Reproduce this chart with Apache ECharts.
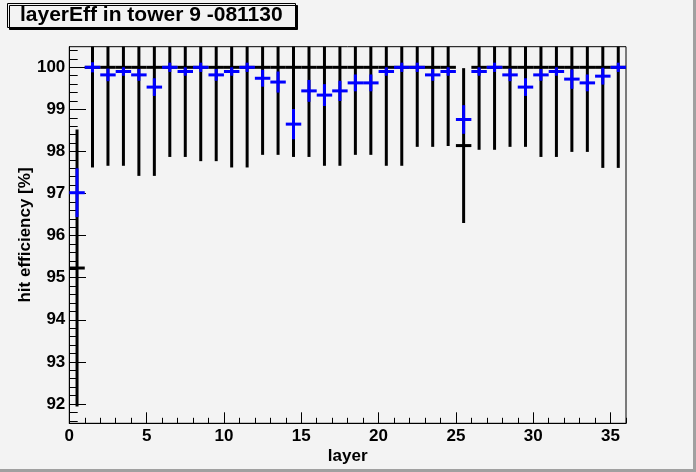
<!DOCTYPE html>
<html>
<head>
<meta charset="utf-8">
<script src="https://cdn.jsdelivr.net/npm/echarts@6/dist/echarts.min.js"></script>
<style>
html,body{margin:0;padding:0;background:#f3f3f3;}
#chart{width:696px;height:472px;}
</style>
</head>
<body>
<div id="chart"></div>
<script>
// ---- data ----
const layers = [0,1,2,3,4,5,6,7,8,9,10,11,12,13,14,15,16,17,18,19,20,21,22,23,24,25,26,27,28,29,30,31,32,33,34,35];
const blueEff = [97.02,100,99.82,99.90,99.82,99.53,100,99.90,100,99.82,99.90,100,99.74,99.65,98.65,99.44,99.34,99.44,99.63,99.63,99.90,100,100,99.82,99.90,98.76,99.90,100,99.82,99.53,99.82,99.90,99.72,99.63,99.79,100];
const blueErr = [0.58,0.12,0.15,0.10,0.14,0.21,0.11,0.10,0.11,0.14,0.10,0.11,0.20,0.25,0.36,0.26,0.26,0.24,0.20,0.20,0.10,0.11,0.11,0.14,0.10,0.34,0.10,0.11,0.15,0.21,0.14,0.10,0.23,0.20,0.20,0.11];
const blackEff = [95.23,100,100,100,100,100,100,100,100,100,100,100,100,100,100,100,100,100,100,100,100,100,100,100,100,98.14,100,100,100,100,100,100,100,100,100,100];
const blackErr = [3.29,2.38,2.34,2.34,2.58,2.58,2.13,2.13,2.23,2.23,2.38,2.38,2.08,2.08,2.13,2.13,2.34,2.34,2.08,2.08,2.34,2.34,1.89,1.89,1.87,1.84,1.96,1.96,1.89,1.89,2.13,2.13,2.01,2.01,2.39,2.39];
const xMajorTicks = [0,5,10,15,20,25,30,35];
const yMajorTicks = [92,93,94,95,96,97,98,99,100];
const xMinorTicks = [];
for (let i = 0; i <= 36; i++) xMinorTicks.push(i);
const yMinorTicks = [];
for (let k = 458; k <= 502; k++) yMinorTicks.push(+(k * 0.2).toFixed(1));

const titleText = 'layerEff in tower 9 -081130';
const xTitle = 'layer';
const yTitle = 'hit efficiency [%]';
const X_MIN = 0, X_MAX = 36, Y_MIN = 91.54, Y_MAX = 100.49;

const FONT = '"Liberation Sans", Arial, sans-serif';

function makeRenderer(color, hLine, vLine) {
  return function (params, api) {
    const layer = api.value(0), v = api.value(1), e = api.value(2);
    const cs = params.coordSys;
    const pL = api.coord([layer, v]);
    const pR = api.coord([layer + 1, v]);
    const top = api.coord([layer + 0.5, v + e]);
    const bot = api.coord([layer + 0.5, v - e]);
    const yTop = Math.max(top[1], cs.y);
    const yBot = Math.min(bot[1], cs.y + cs.height);
    return {
      type: 'group',
      children: [
        { type: 'line', shape: { x1: top[0], y1: yTop, x2: top[0], y2: yBot }, style: { stroke: color, lineWidth: vLine } },
        { type: 'line', shape: { x1: pL[0], y1: pL[1], x2: pR[0], y2: pR[1] }, style: { stroke: color, lineWidth: hLine } }
      ]
    };
  };
}

const blackData = layers.map((l, i) => [l, blackEff[i], blackErr[i]]);
const blueData = layers.map((l, i) => [l, blueEff[i], blueErr[i]]);

const chart = echarts.init(document.getElementById('chart'), null, { renderer: 'canvas' });
chart.setOption({
  backgroundColor: '#f3f3f3',
  animation: false,
  title: {
    text: titleText,
    left: 7, top: 3,
    padding: [2, 13, 2, 13],
    backgroundColor: '#f3f3f3',
    borderColor: '#000', borderWidth: 1,
    shadowColor: '#000', shadowBlur: 0, shadowOffsetX: 2, shadowOffsetY: 2,
    textStyle: { fontFamily: FONT, fontWeight: 'bold', fontSize: 21, color: '#000', lineHeight: 21 }
  },
  grid: {
    left: 69.3, right: 70, top: 46.7, bottom: 48.7,
    show: true, borderColor: '#000', borderWidth: 1, backgroundColor: '#f3f3f3'
  },
  xAxis: [{
    type: 'value', min: X_MIN, max: X_MAX, position: 'bottom',
    name: xTitle, nameLocation: 'middle', nameGap: 25, nameMoveOverlap: false,
    nameTextStyle: { fontFamily: FONT, fontWeight: 'bold', fontSize: 17, color: '#000' },
    axisLine: { show: true, lineStyle: { color: '#000', width: 1 } },
    axisTick: { show: true, inside: true, length: 11, customValues: xMajorTicks, lineStyle: { color: '#000', width: 1 } },
    axisLabel: { show: true, customValues: xMajorTicks, margin: 5, fontFamily: FONT, fontWeight: 'bold', fontSize: 17, color: '#000' },
    splitLine: { show: false }
  }, {
    type: 'value', min: X_MIN, max: X_MAX, position: 'bottom',
    axisLine: { show: false },
    axisTick: { show: true, inside: true, length: 5.5, customValues: xMinorTicks, lineStyle: { color: '#000', width: 1 } },
    axisLabel: { show: false },
    splitLine: { show: false }
  }],
  yAxis: [{
    type: 'value', min: Y_MIN, max: Y_MAX, position: 'left',
    name: yTitle, nameLocation: 'middle', nameGap: 35, nameMoveOverlap: false,
    nameTextStyle: { fontFamily: FONT, fontWeight: 'bold', fontSize: 17, color: '#000' },
    axisLine: { show: true, lineStyle: { color: '#000', width: 1 } },
    axisTick: { show: true, inside: true, length: 16.7, customValues: yMajorTicks, lineStyle: { color: '#000', width: 1 } },
    axisLabel: { show: true, customValues: yMajorTicks, margin: 4, fontFamily: FONT, fontWeight: 'bold', fontSize: 17, color: '#000' },
    splitLine: { show: false }
  }, {
    type: 'value', min: Y_MIN, max: Y_MAX, position: 'left',
    axisLine: { show: false },
    axisTick: { show: true, inside: true, length: 8.4, customValues: yMinorTicks, lineStyle: { color: '#000', width: 1 } },
    axisLabel: { show: false },
    splitLine: { show: false }
  }],
  series: [{
    type: 'custom', name: 'all', xAxisIndex: 0, yAxisIndex: 0,
    renderItem: makeRenderer('#000000', 3, 3),
    encode: { x: 0, y: 1 },
    data: blackData
  }, {
    type: 'custom', name: 'hit', xAxisIndex: 0, yAxisIndex: 0,
    renderItem: makeRenderer('#0000ff', 3, 3),
    encode: { x: 0, y: 1 },
    data: blueData
  }],
  graphic: [
    { type: 'rect', shape: { x: 0, y: 469, width: 696, height: 3 }, style: { fill: '#a0a0a0' }, silent: true },
    { type: 'rect', shape: { x: 693, y: 0, width: 3, height: 472 }, style: { fill: '#a0a0a0' }, silent: true }
  ]
});
</script>
</body>
</html>
